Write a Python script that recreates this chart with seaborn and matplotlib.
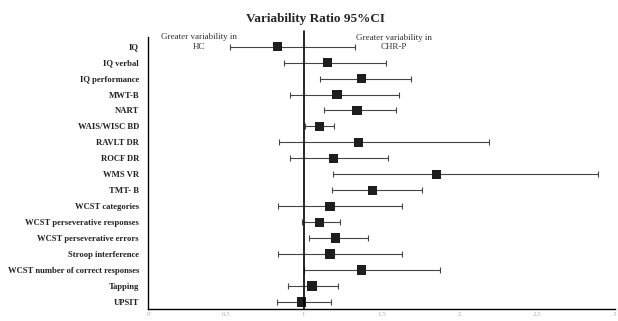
import numpy as np
import pandas as pd
import seaborn as sns
import matplotlib.pyplot as plt

measures = ['IQ', 'IQ verbal', 'IQ performance', 'MWT-B', 'NART', 'WAIS/WISC BD',
            'RAVLT DR', 'ROCF DR', 'WMS VR', 'TMT- B', 'WCST categories',
            'WCST perseverative responses', 'WCST perseverative errors',
            'Stroop interference', 'WCST number of correct responses', 'Tapping', 'UPSIT']
vr = [0.833, 1.154, 1.372, 1.214, 1.342, 1.103, 1.353, 1.19, 1.854, 1.443, 1.17,
      1.103, 1.205, 1.17, 1.372, 1.053, 0.987]
ci_low = [0.525, 0.873, 1.105, 0.914, 1.133, 1.01, 0.843, 0.914, 1.19, 1.18, 0.833,
          0.987, 1.032, 0.833, 1.002, 0.90, 0.827]
ci_high = [1.33, 1.527, 1.693, 1.614, 1.595, 1.197, 2.19, 1.545, 2.89, 1.76, 1.63,
           1.235, 1.415, 1.63, 1.873, 1.222, 1.173]
xticks = [0, 0.5, 1, 1.5, 2, 2.5, 3]
xtick_labels = ['0', '0.5', '1', '1.5', '2', '2.5', '3']

df = pd.DataFrame({'measure': measures, 'vr': vr, 'lo': ci_low, 'hi': ci_high})
df['row'] = np.arange(len(df))

sns.set_style("white")
plt.rcParams['font.family'] = ['Liberation Serif', 'DejaVu Serif']

fig = plt.figure(figsize=(6.18, 3.21), dpi=100)
ax = fig.add_axes([0.2395, 0.0374, 0.7555, 0.8476])

ax.errorbar(df['vr'], df['row'],
            xerr=[df['vr'] - df['lo'], df['hi'] - df['vr']],
            fmt='none', ecolor='#444444', elinewidth=0.8, capsize=2, capthick=0.8, zorder=2)
sns.scatterplot(data=df, x='vr', y='row', marker='s', s=45, color='#1e1e1e',
                edgecolor='none', ax=ax, zorder=3, legend=False)

ax.plot([1, 1], [-0.95, 16.44], color='black', lw=1.2, clip_on=False, zorder=4)

ax.set_xlim(0, 3)
ax.set_ylim(16.44, -0.61)
ax.set_yticks(df['row'])
ax.set_yticklabels(measures, fontsize=6.2, fontweight='bold', color='#222222')
ax.set_xticks(xticks)
ax.set_xticklabels(xtick_labels, fontsize=5, color='#aaaaaa')
ax.tick_params(axis='y', length=0, pad=6.5)
ax.tick_params(axis='x', length=2, width=0.6, color='#555555', direction='in', pad=2)
ax.set_xlabel('')
ax.set_ylabel('')

for side in ['top', 'right']:
    ax.spines[side].set_visible(False)
for side in ['left', 'bottom']:
    ax.spines[side].set_color('black')
    ax.spines[side].set_linewidth(1.0)

ax.text(0.33, -0.3, 'Greater variability in\nHC', fontsize=6.5, color='#333333',
        ha='center', va='center', linespacing=1.25)
ax.text(1.58, -0.25, 'Greater variability in\nCHR-P', fontsize=6.5, color='#333333',
        ha='center', va='center', linespacing=1.25)

fig.text(0.51, 0.94, 'Variability Ratio 95%CI', fontsize=9.5, fontweight='bold',
         ha='center', va='center')

fig.savefig('out.png', dpi=100)
